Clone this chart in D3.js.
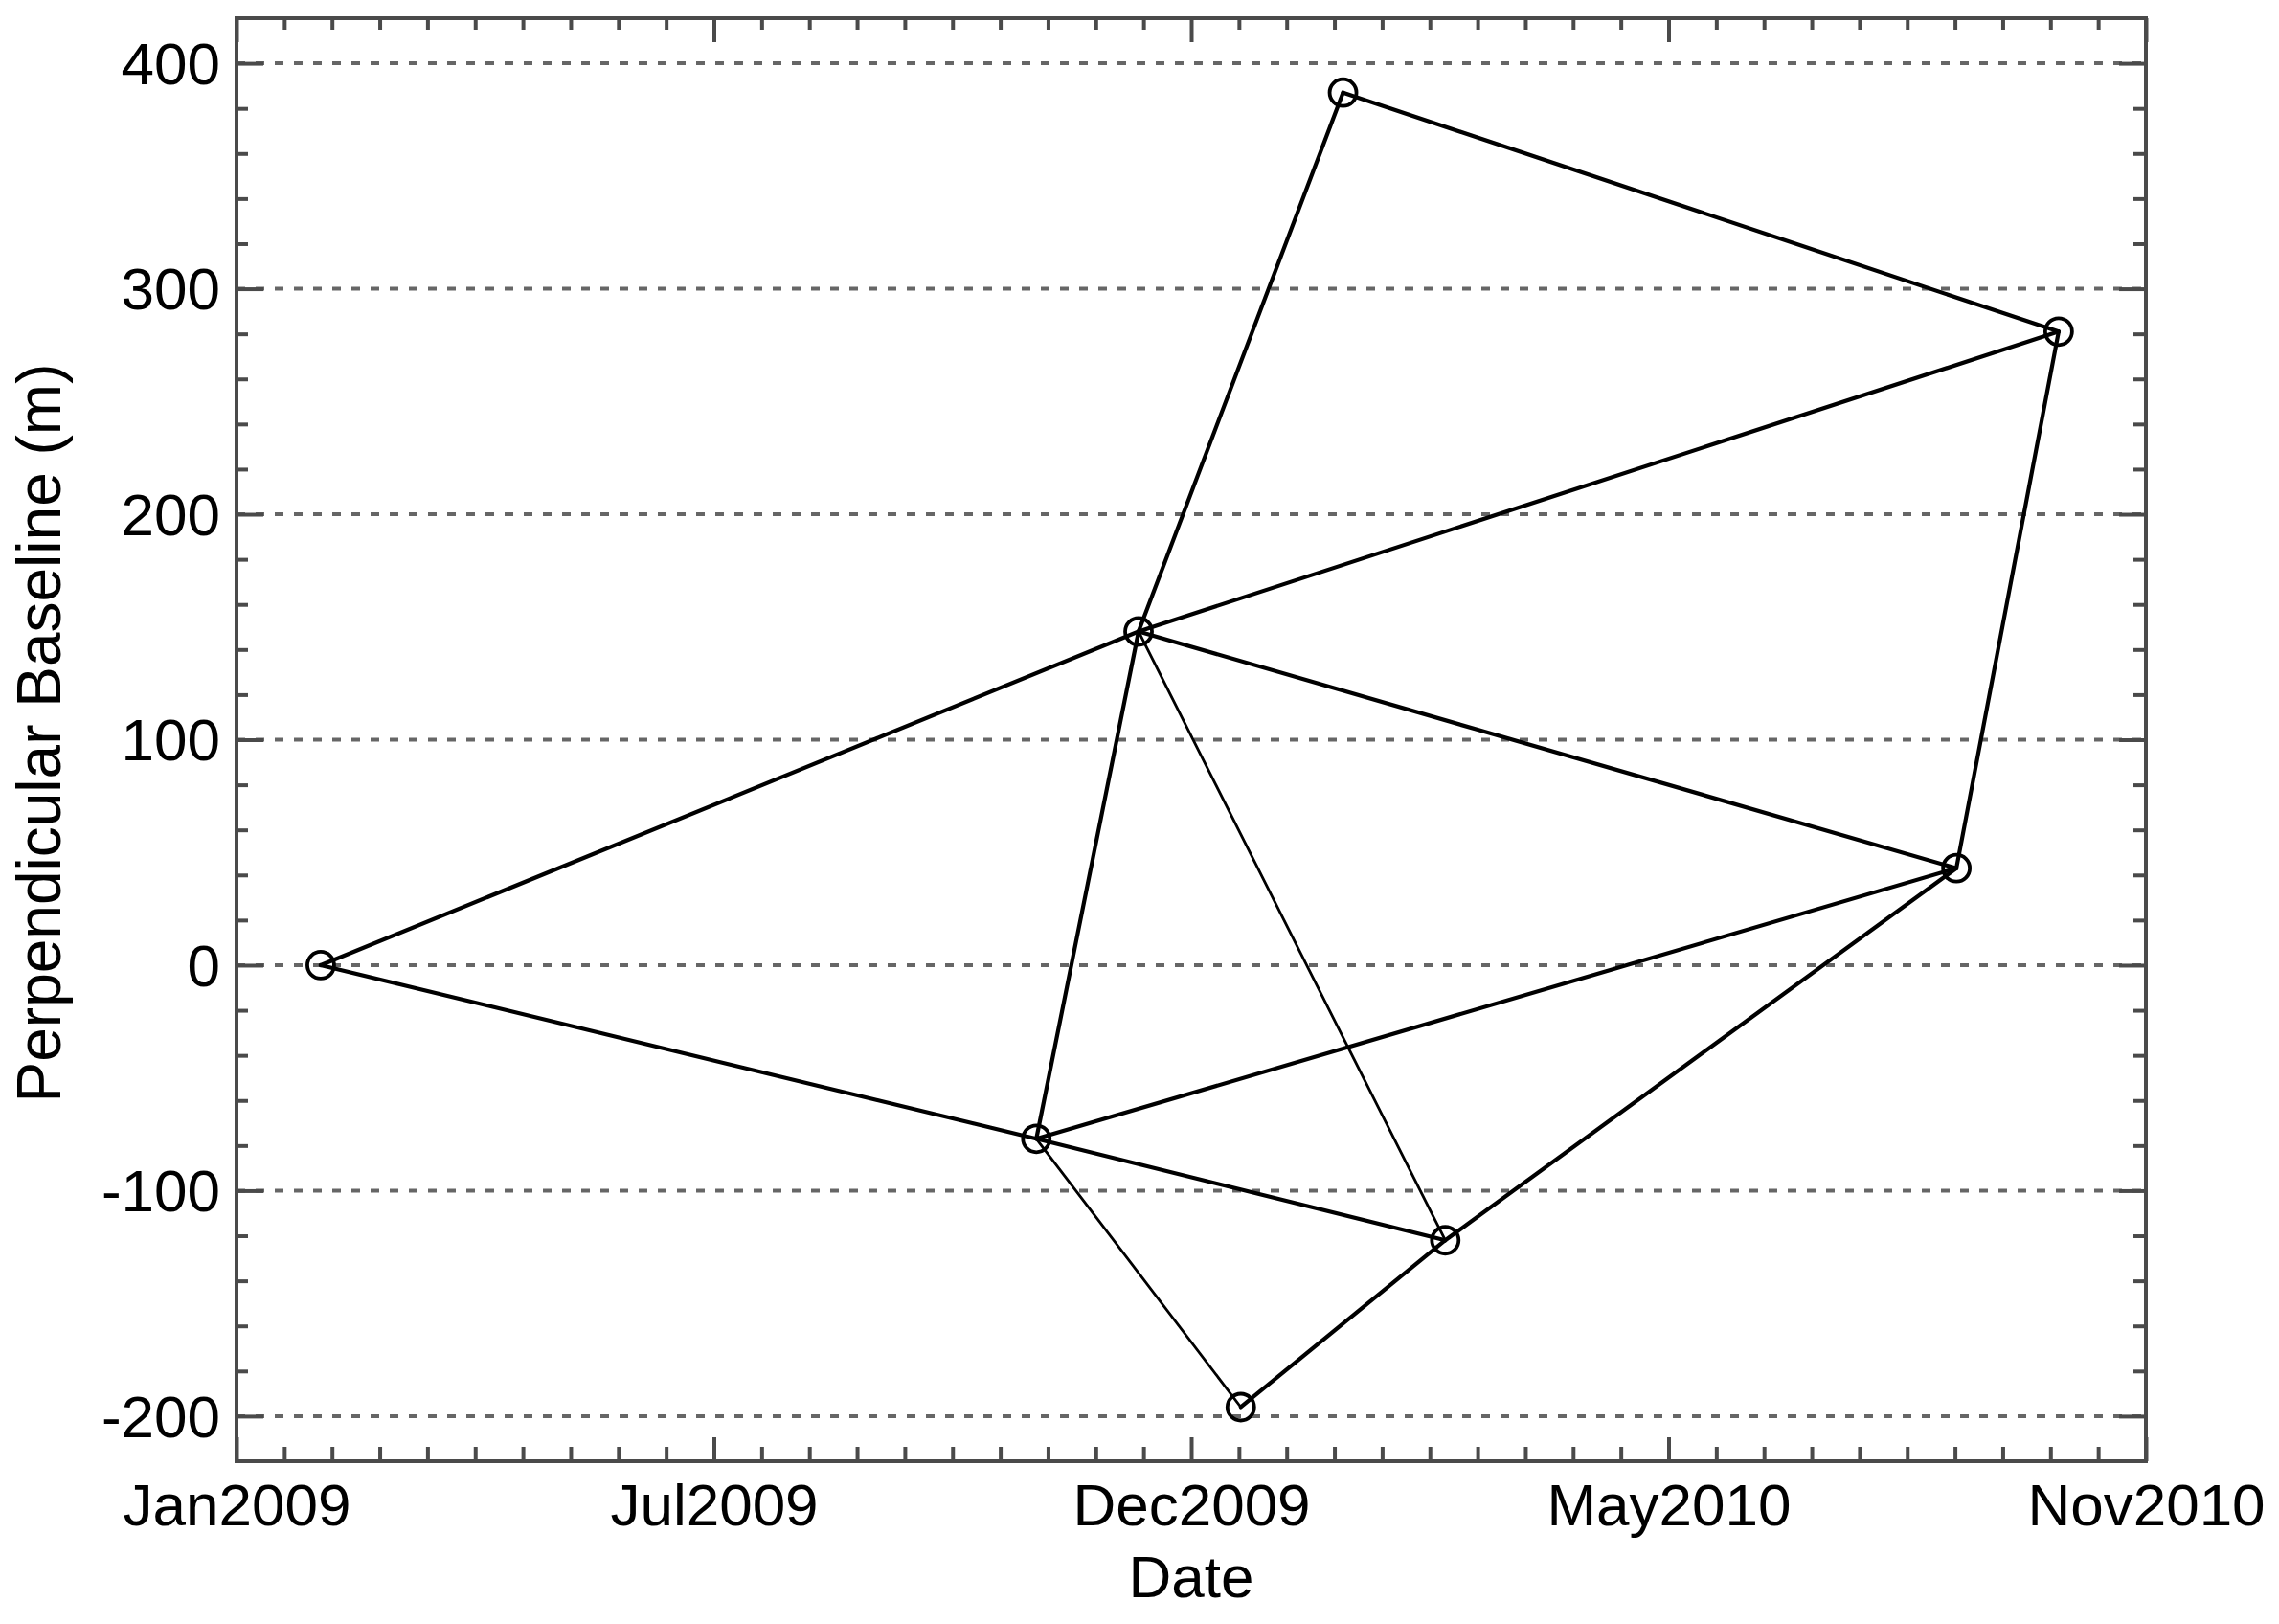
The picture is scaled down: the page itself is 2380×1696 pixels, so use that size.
<!DOCTYPE html>
<html>
<head>
<meta charset="utf-8">
<script src="https://cdn.jsdelivr.net/npm/d3@7"></script>
<style>
  html, body { margin: 0; padding: 0; background: #fff; }
  svg { display: block; }
  text { font-family: "Liberation Sans", Arial, Helvetica, sans-serif; fill: #000; }
</style>
</head>
<body>
<svg id="chart" width="2380" height="1696"></svg>
<script>
// ---------------- DATA ----------------
const acquisitionDates = ["2009-02-17", "2009-10-20", "2009-11-24", "2009-12-29",
                          "2010-02-02", "2010-03-09", "2010-08-31", "2010-10-05"];
const perpendicularBaselines = [0, -77, 148, -196, 387, -122, 43, 281];
// interferometric pairs (indices into the arrays above)
const pairs = [[0, 1], [0, 2], [1, 2], [1, 6], [1, 5], [1, 3], [2, 4],
               [2, 7], [2, 6], [2, 5], [3, 5], [4, 7], [5, 6], [6, 7]];
const xTickLabels = ["Jan2009", "Jul2009", "Dec2009", "May2010", "Nov2010"];
const yTickValues = [-200, -100, 0, 100, 200, 300, 400];
const yTickLabels = ["-200", "-100", "0", "100", "200", "300", "400"];
const xDomainDates = ["2009-01-19T04:00", "2010-11-03T21:00"];
const yDomainValues = [-220, 420];
const xAxisTitle = "Date";
const yAxisTitle = "Perpendicular Baseline (m)";

// ---------------- STYLE / LAYOUT ----------------
const thinPairs = [[1, 3], [2, 5]];
const W = 2380, H = 1696;
const mLeft = 247, mRight = 2241, mTop = 19, mBottom = 1526;
const axisColor = "#4a4a4a";
const gridColor = "#666666";
const fontSize = 62;

const parseDay = d3.utcParse("%Y-%m-%d");
const parseDT = d3.utcParse("%Y-%m-%dT%H:%M");
const t0 = parseDT(xDomainDates[0]), t1 = parseDT(xDomainDates[1]);

const x = d3.scaleUtc().domain([t0, t1]).range([mLeft, mRight]);
const y = d3.scaleLinear().domain(yDomainValues).range([mBottom, mTop]);

const svg = d3.select("#chart");
svg.append("rect").attr("width", W).attr("height", H).attr("fill", "#fff");

const nMajor = xTickLabels.length - 1;
const majorX = d3.range(nMajor + 1).map(i => new Date(+t0 + i * (t1 - t0) / nMajor));
const minorX = d3.range(nMajor * 10 + 1).filter(i => i % 10 !== 0)
  .map(i => new Date(+t0 + i * (t1 - t0) / (nMajor * 10)));
const minorY = d3.range(yDomainValues[0], yDomainValues[1] + 1, 20)
  .filter(v => v % 100 !== 0 && v > yDomainValues[0] && v < yDomainValues[1]);

// gridlines
svg.append("g").selectAll("line").data(yTickValues).join("line")
  .attr("x1", mLeft).attr("x2", mRight)
  .attr("y1", d => y(d)).attr("y2", d => y(d))
  .attr("stroke", gridColor).attr("stroke-width", 4)
  .attr("stroke-dasharray", "9,11");

function styleAxis(g) {
  g.select(".domain").remove();
  g.selectAll(".tick line").attr("stroke", axisColor).attr("stroke-width", 4);
  g.selectAll(".tick text").attr("font-size", fontSize)
    .attr("font-family", "Liberation Sans, Arial, sans-serif").attr("fill", "#000");
}

// bottom axis (major with labels + minor)
svg.append("g").attr("transform", `translate(0,${mBottom})`)
  .call(d3.axisBottom(x).tickValues(majorX).tickSize(-25).tickPadding(23)
    .tickFormat((d, i) => xTickLabels[i]))
  .call(styleAxis);
svg.append("g").attr("transform", `translate(0,${mBottom})`)
  .call(d3.axisBottom(x).tickValues(minorX).tickSize(-15).tickFormat(""))
  .call(styleAxis);
// top axis
svg.append("g").attr("transform", `translate(0,${mTop})`)
  .call(d3.axisTop(x).tickValues(majorX).tickSize(-25).tickFormat(""))
  .call(styleAxis);
svg.append("g").attr("transform", `translate(0,${mTop})`)
  .call(d3.axisTop(x).tickValues(minorX).tickSize(-12).tickFormat(""))
  .call(styleAxis);

// left axis
svg.append("g").attr("transform", `translate(${mLeft},0)`)
  .call(d3.axisLeft(y).tickValues(yTickValues).tickSize(-28).tickPadding(17)
    .tickFormat((d, i) => yTickLabels[i]))
  .call(styleAxis)
  .call(g => g.selectAll(".tick text").attr("dy", "0.34em"));
svg.append("g").attr("transform", `translate(${mLeft},0)`)
  .call(d3.axisLeft(y).tickValues(minorY).tickSize(-12).tickFormat(""))
  .call(styleAxis);
// right axis
svg.append("g").attr("transform", `translate(${mRight},0)`)
  .call(d3.axisRight(y).tickValues(yTickValues).tickSize(-28).tickFormat(""))
  .call(styleAxis);
svg.append("g").attr("transform", `translate(${mRight},0)`)
  .call(d3.axisRight(y).tickValues(minorY).tickSize(-13).tickFormat(""))
  .call(styleAxis);

// frame
svg.append("rect")
  .attr("x", mLeft).attr("y", mTop)
  .attr("width", mRight - mLeft).attr("height", mBottom - mTop)
  .attr("fill", "none").attr("stroke", axisColor).attr("stroke-width", 4);

// data
const points = acquisitionDates.map((d, i) => ({ date: parseDay(d), bp: perpendicularBaselines[i] }));
const isThin = (a, b) => thinPairs.some(p => (p[0] === a && p[1] === b) || (p[0] === b && p[1] === a));

svg.append("g").selectAll("line").data(pairs).join("line")
  .attr("x1", p => x(points[p[0]].date)).attr("y1", p => y(points[p[0]].bp))
  .attr("x2", p => x(points[p[1]].date)).attr("y2", p => y(points[p[1]].bp))
  .attr("stroke", "#000")
  .attr("stroke-width", p => isThin(p[0], p[1]) ? 2.8 : 4.2)
  .attr("stroke-linecap", "round");

svg.append("g").selectAll("circle").data(points).join("circle")
  .attr("cx", d => x(d.date)).attr("cy", d => y(d.bp))
  .attr("r", 14).attr("fill", "none")
  .attr("stroke", "#000").attr("stroke-width", 3.8);

// titles
svg.append("text")
  .attr("x", (mLeft + mRight) / 2).attr("y", 1668)
  .attr("text-anchor", "middle").attr("font-size", fontSize)
  .text(xAxisTitle);
svg.append("text")
  .attr("transform", `translate(63,${(mTop + mBottom) / 2 - 7}) rotate(-90)`)
  .attr("text-anchor", "middle").attr("font-size", 64)
  .text(yAxisTitle);
</script>
</body>
</html>
